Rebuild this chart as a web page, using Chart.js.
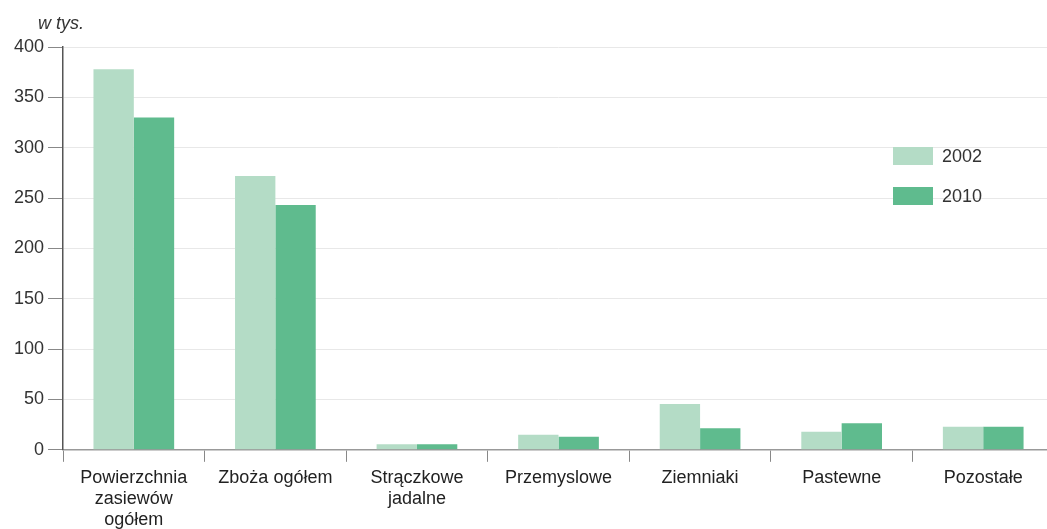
<!DOCTYPE html>
<html>
<head>
<meta charset="utf-8">
<script src="https://cdn.jsdelivr.net/npm/chart.js@4"></script>
<style>
  html, body { margin: 0; padding: 0; background: #fff; overflow: hidden; }
  #wrap { width: 1060px; height: 538px; }
</style>
</head>
<body>
<div id="wrap"><canvas id="myChart"></canvas></div>
<script>
// Données du graphique
const categories = [
  ['Powierzchnia', 'zasiewów', 'ogółem'],
  'Zboża ogółem',
  ['Strączkowe', 'jadalne'],
  'Przemyslowe',
  'Ziemniaki',
  'Pastewne',
  'Pozostałe'
];
const seriesNames = ['2002', '2010'];
const values2002 = [378, 272, 5.5, 15, 45.5, 18, 23];
const values2010 = [330, 243, 5.5, 13, 21.5, 26.5, 23];
const yTicks = [0, 50, 100, 150, 200, 250, 300, 350, 400];
const unitLabel = 'w tys.';

const colors = ['#b4dcc6', '#5fbb8e'];
const fontFamily = '"Liberation Sans", Arial, sans-serif';

// Titre de l'unité + légende dessinés à la main
const extras = {
  id: 'extras',
  afterDraw(chart) {
    const { ctx, chartArea } = chart;
    ctx.save();
    ctx.fillStyle = '#333';
    ctx.font = 'italic 18px ' + fontFamily;
    ctx.textBaseline = 'alphabetic';
    ctx.textAlign = 'left';
    ctx.fillText(unitLabel, chartArea.left - 25, 29);

    ctx.font = '18px ' + fontFamily;
    ctx.textBaseline = 'middle';
    chart.data.datasets.forEach((ds, i) => {
      const y = 156 + i * 40;
      ctx.fillStyle = ds.backgroundColor;
      ctx.fillRect(893, y - 9, 40, 18);
      ctx.fillStyle = '#333';
      ctx.fillText(ds.label, 942, y + 1);
    });
    ctx.restore();
  }
};

const ctx = document.getElementById('myChart').getContext('2d');
new Chart(ctx, {
  type: 'bar',
  data: {
    labels: categories,
    datasets: [
      { label: seriesNames[0], data: values2002, backgroundColor: colors[0] },
      { label: seriesNames[1], data: values2010, backgroundColor: colors[1] }
    ]
  },
  options: {
    responsive: true,
    maintainAspectRatio: false,
    animation: false,
    layout: { padding: { top: 47, right: 6, left: 10, bottom: 1 } },
    datasets: { bar: { categoryPercentage: 0.57, barPercentage: 1.0 } },
    plugins: {
      legend: { display: false },
      tooltip: { enabled: false }
    },
    scales: {
      x: {
        grid: { display: true, drawOnChartArea: false, offset: true, tickLength: 12, color: '#888', lineWidth: 1 },
        border: { color: '#999', width: 1.5 },
        ticks: { color: '#222', font: { family: fontFamily, size: 18, lineHeight: 1.17 }, padding: 6, maxRotation: 0, autoSkip: false }
      },
      y: {
        min: 0,
        max: 400,
        afterBuildTicks(axis) { axis.ticks = yTicks.map(v => ({ value: v })); },
        grid: { color: '#e8e8e8', tickColor: '#888', tickLength: 15, lineWidth: 1 },
        border: { color: '#555', width: 1.5 },
        ticks: { color: '#333', font: { family: fontFamily, size: 18 }, padding: 4 }
      }
    }
  },
  plugins: [extras]
});
</script>
</body>
</html>
